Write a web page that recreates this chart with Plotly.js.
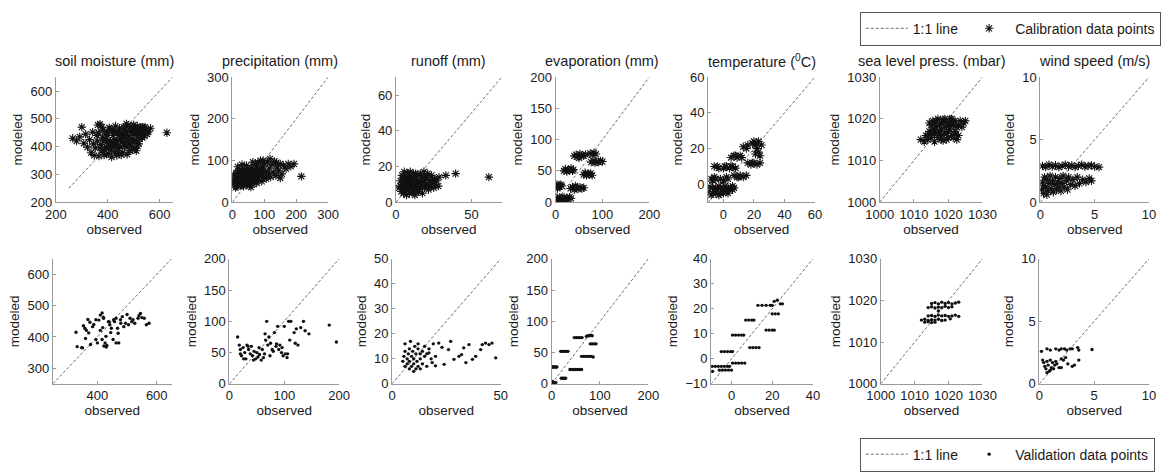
<!DOCTYPE html>
<html>
<head>
<meta charset="utf-8">
<script src="https://cdn.plot.ly/plotly-3.0.1.min.js"></script>
<style>html,body{margin:0;padding:0;background:#fff}#chart{width:1161px;height:472px}</style>
</head>
<body>
<div id="chart"></div>
<script>
// ---------- labels ----------
const panelTitles = ['soil moisture (mm)','precipitation (mm)','runoff (mm)','evaporation (mm)','temperature (<sup>0</sup>C)','sea level press. (mbar)','wind speed (m/s)'];
const xAxisLabel = 'observed';
const yAxisLabel = 'modeled';
const lineLabel = '1:1 line';
const calLabel = 'Calibration data points';
const valLabel = 'Validation data points';

// ---------- axis ranges & ticks (calibration row) ----------
const calRanges = [[200,650],[0,300],[0,70],[0,200],[-10,60],[1000,1030],[0,10]];
const calXTicks = [[200,400,600],[0,100,200,300],[0,50],[0,100,200],[0,20,40,60],[1000,1010,1020,1030],[0,5,10]];
const calYTicks = [[200,300,400,500,600],[0,100,200,300],[0,20,40,60],[0,50,100,150,200],[0,20,40,60],[1000,1010,1020,1030],[0,5,10]];
const calLine = [[250,650],[0,300],[0,70],[0,200],[-10,60],[1000,1030],[0,10]];
// ---------- axis ranges & ticks (validation row) ----------
const valRanges = [[250,650],[0,200],[0,50],[0,200],[-10,40],[1000,1030],[0,10]];
const valXTicks = [[400,600],[0,100,200],[0,50],[0,100,200],[0,20,40],[1000,1010,1020,1030],[0,5,10]];
const valYTicks = [[300,400,500,600],[0,50,100,150,200],[0,10,20,30,40,50],[0,50,100,150,200],[-10,0,10,20,30,40],[1000,1010,1020,1030],[0,5,10]];
const valLine = [[250,650],[0,200],[0,50],[0,200],[-10,40],[1000,1030],[0,10]];

// ---------- calibration data [observed, modeled] ----------
const calSoil = [[265,430],[280,420],[292,435],[300,470],[308,412],[315,445],[322,398],[330,425],[336,378],[342,452],[348,368],[352,395],[358,440],[362,478],[366,366],[370,481],[374,408],[378,385],[382,460],[386,370],[390,428],[394,398],[398,452],[402,375],[406,468],[410,418],[414,388],[418,458],[422,440],[426,380],[430,474],[434,410],[438,452],[442,393],[446,466],[450,428],[454,446],[458,378],[462,470],[466,414],[470,452],[474,398],[478,476],[482,434],[486,460],[490,405],[494,472],[498,446],[502,420],[506,466],[510,440],[514,474],[518,455],[522,428],[526,468],[530,448],[536,470],[542,438],[548,460],[556,452],[565,466],[628,450],[360,420],[380,432],[400,440],[420,402],[440,422],[460,438],[480,420],[500,458],[520,410],[370,395],[395,372],[415,362],[435,368],[455,400],[475,372],[495,390],[515,402],[345,410],[365,450],[385,420],[405,395],[425,452],[445,375],[465,430],[485,385],[505,395],[525,440],[552,445],[540,458],[392,445],[408,405],[424,425],[436,395],[448,452],[464,405],[476,440],[488,472],[496,425],[508,455],[512,420],[528,458],[534,432],[544,470],[388,388],[412,462],[428,410],[452,370],[468,460],[484,410],[500,478],[516,465],[532,470],[378,470],[398,418],[444,440],[472,482],[492,452],[510,385],[458,418]];
const calPrec = [[3,45],[5,55],[6,40],[8,62],[10,48],[12,70],[13,38],[15,52],[17,85],[18,44],[20,60],[22,50],[24,72],[25,40],[27,56],[29,65],[30,46],[32,80],[34,52],[35,38],[37,60],[39,70],[40,45],[42,55],[44,88],[45,42],[47,64],[49,50],[50,75],[52,58],[54,40],[56,68],[58,48],[60,82],[62,55],[64,44],[66,62],[68,72],[70,50],[72,90],[74,60],[76,46],[78,68],[80,95],[82,55],[84,78],[86,62],[88,100],[90,70],[92,50],[95,85],[98,60],[100,92],[103,74],[106,56],[110,96],[113,68],[116,82],[120,60],[124,90],[128,72],[132,98],[136,64],[140,85],[145,75],[150,92],[155,68],[160,88],[168,80],[175,92],[183,86],[193,92],[216,62],[4,66],[10,35],[20,76],[30,90],[14,58],[26,48],[36,66],[48,82],[58,36],[64,96],[76,85],[96,100],[108,62],[118,104],[138,95],[150,58],[2,52],[7,46],[9,58],[11,42],[16,64],[19,48],[23,55],[28,43],[31,58],[33,70],[38,44],[41,62],[43,50],[46,74],[51,45],[55,60],[59,66],[63,52],[67,78],[71,58],[77,72],[83,66],[89,82],[94,72]];
const calRunoff = [[2,8],[3,12],[3.5,6],[4,15],[4.5,9],[5,5],[5,12],[5.5,17],[6,8],[6.5,14],[7,4],[7,11],[7.5,16],[8,7],[8.5,13],[9,5],[9,10],[9.5,17],[10,8],[10.5,14],[11,6],[11,12],[11.5,16],[12,9],[12.5,4],[13,13],[13.5,7],[14,15],[14.5,10],[15,6],[15.5,12],[16,16],[16.5,9],[17,14],[17.5,5],[18,11],[18.5,17],[19,8],[19.5,14],[20,10],[21,16],[21.5,7],[22,12],[23,9],[23.5,15],[24,11],[25,8],[25.5,13],[26,10],[27,12],[28,9],[28.5,14],[4,10],[6,6],[8,10],[10,12],[12,6],[14,11],[16,8],[6,11],[9,14],[13,9],[33,15],[39.5,16],[61.5,14],[3,9],[5,14],[7,7],[8,16],[9,12],[11,9],[12,13],[13,16],[14,6],[15,9],[17,11],[19,12],[20,14],[22,9],[24,13]];
const calEvap = [[2,1],[4,5],[6,0],[8,3],[10,6],[12,2],[5,-2],[9,8],[3,7],[1,25],[3,28],[5,24],[7,27],[9,25],[11,28],[13,26],[4,22],[15,5],[18,8],[21,4],[24,7],[27,5],[30,8],[33,6],[20,2],[18,50],[21,53],[24,49],[27,52],[30,51],[33,54],[36,50],[38,52],[32,22],[36,24],[40,20],[44,23],[48,21],[52,24],[56,22],[60,23],[42,26],[40,74],[44,76],[48,73],[52,77],[56,75],[60,74],[64,76],[50,71],[74,78],[78,76],[82,79],[86,77],[76,64],[80,66],[84,63],[88,65],[92,64],[96,66],[100,65],[60,44],[63,47],[66,43],[69,46],[72,44],[75,46],[78,43]];
const calTemp = [[-10,-4],[-8,-6],[-7,-2],[-6,-4],[-5,-5],[-4,-3],[-3,-6],[-2,-2],[-1,-4],[0,-5],[1,-3],[2,-4],[3,-2],[4,-3],[5,-2],[6,-1],[7,-2],[-9,-1],[-3,-1],[-8,3],[-7,2],[-6,4],[-5,3],[-2,3],[0,2],[2,4],[3,3],[-6,10],[-4,10],[-3,9],[0,9],[2,10],[4,9],[6,10],[8,9],[5,15],[7,16],[9,15],[11,16],[12,15],[7,5],[9,4],[11,5],[13,4],[15,5],[13,21],[15,20],[16,22],[16,12],[18,11],[20,12],[22,11],[24,12],[19,23],[21,22],[23,24],[25,22],[22,20],[21,17],[23,18],[24,16],[-7,-5],[-5,-2],[-2,-5],[1,-1],[3,-5],[6,-3],[1,10],[5,10],[8,16],[10,4],[19,12],[20,24],[22,23]];
const calSlp = [[1012,1015],[1013,1014.5],[1013.5,1016],[1014,1015],[1014.5,1017],[1015,1018.5],[1015,1015.5],[1015.5,1019.5],[1016,1016.5],[1016,1014.5],[1016.5,1018],[1017,1020],[1017,1015.5],[1017.5,1017],[1018,1019],[1018,1016],[1018.5,1014.8],[1019,1018],[1019,1020],[1019.5,1016.5],[1020,1019],[1020,1015.5],[1020.5,1017.5],[1021,1020],[1021,1016],[1021.5,1018.5],[1022,1019.5],[1022,1017],[1022.5,1015],[1023,1018.5],[1023,1016],[1023.5,1019.5],[1024,1018],[1024.5,1019],[1025,1019.5],[1014.5,1019],[1016.5,1019.5],[1018.5,1019.8],[1020.5,1020],[1015.5,1017.5],[1017.5,1018.5],[1019.5,1015],[1021.5,1015.5],[1022.5,1018],[1016,1017.5],[1018,1017.5],[1020,1017],[1015,1016.5],[1017,1016.5],[1019,1016.5],[1021,1019],[1014,1016],[1016,1018.8],[1018,1015],[1020,1018.2],[1022,1016.2],[1019,1019.2]];
const calWind = [[0.2,2.9],[0.5,2.8],[0.8,3.0],[1.1,2.85],[1.4,2.95],[1.7,2.8],[2.0,2.9],[2.3,3.0],[2.6,2.85],[2.9,2.95],[3.2,2.8],[3.5,2.9],[3.8,3.0],[4.1,2.85],[4.4,2.9],[4.7,2.95],[5.0,2.85],[5.4,2.8],[0.1,1.0],[0.2,1.6],[0.3,0.7],[0.4,2.0],[0.5,1.2],[0.6,1.8],[0.7,0.9],[0.8,1.5],[0.9,2.1],[1.0,1.1],[1.1,1.7],[1.2,0.8],[1.3,1.4],[1.4,2.0],[1.5,1.0],[1.6,1.6],[1.7,1.2],[1.8,1.9],[1.9,0.9],[2.0,1.5],[2.1,2.1],[2.2,1.2],[2.4,1.7],[2.5,1.0],[2.6,2.0],[2.8,1.4],[3.0,1.8],[3.2,1.3],[3.4,2.0],[3.6,1.5],[3.9,1.8],[4.2,1.6],[4.5,1.9],[4.7,1.7],[0.3,1.3],[0.6,0.6]];

// ---------- validation data [observed, modeled] ----------
const valSoil = [[328,415],[332,369],[347,366],[353,436],[358,428],[363,421],[371,413],[368,456],[377,376],[384,433],[395,392],[400,381],[405,454],[410,421],[410,470],[416,477],[421,460],[416,392],[426,381],[429,402],[432,373],[437,449],[442,439],[447,428],[453,392],[458,449],[463,460],[463,381],[472,381],[468,428],[479,444],[484,465],[489,433],[495,444],[500,472],[505,439],[510,460],[516,449],[526,444],[537,460],[545,475],[550,462],[558,460],[565,439],[574,444],[375,447],[388,440],[418,430],[445,414],[470,412],[350,365],[422,371],[430,368],[440,448],[455,455],[478,455],[520,455],[540,468],[395,455],[420,463],[360,395]];
const valPrec = [[15,75],[18,62],[20,55],[22,45],[25,58],[28,50],[30,40],[32,62],[35,55],[38,48],[40,60],[42,45],[45,52],[48,40],[50,50],[52,43],[55,47],[58,38],[60,55],[62,42],[65,80],[66,70],[68,100],[70,62],[72,75],[75,65],[78,55],[80,52],[82,82],[85,60],[88,92],[90,55],[92,62],[95,50],[98,45],[100,92],[102,48],[105,42],[108,100],[110,70],[112,100],[118,82],[120,65],[125,62],[130,90],[135,100],[138,85],[145,80],[182,94],[195,67],[20,48],[26,40],[34,60],[44,38],[54,58],[64,48],[74,45],[86,64],[96,58],[106,48],[122,88]];
const valRunoff = [[5,9],[5.5,11],[6,7],[6,13],[7,8],[7,10],[7.5,12],[8,6],[8,9],[8.5,17],[9,7],[9,11],[9.5,13],[10,8],[10,10],[10.5,15],[11,6],[11,12],[11.5,9],[12,14],[12,7],[13,10],[13,12],[14,8],[14,13],[15,11],[15,15],[16,7],[16,12],[17,14],[17,12.4],[18.5,8.5],[20,7.2],[19,16],[20,11],[21.5,16.3],[23,14.6],[24,7.8],[26,13.7],[27,17],[28.5,9.8],[30.8,11],[32,11.7],[33,14.4],[34,8.5],[35.4,15.7],[37,9.8],[38.5,11],[40.8,13.7],[41.5,15.7],[43,16.3],[44.6,15.7],[46,16.3],[47.7,10.4],[6,16],[8,14],[10,5],[13,6],[12,16],[18,10]];
const valEvap = [[1,27],[3,27],[5,27],[7,27],[9,27],[11,27],[1,2],[3,1],[5,2],[7,1],[9,2],[2,4],[19,52],[22,52],[25,52],[28,52],[31,52],[34,52],[20,9],[23,9],[26,9],[29,9],[38,23],[42,23],[46,23],[50,23],[54,23],[58,23],[62,23],[47,74],[51,74],[55,74],[59,74],[63,74],[72,76],[75,77],[78,77],[81,78],[84,77],[62,44],[66,44],[70,44],[74,44],[78,44],[82,44],[86,43],[80,64],[84,64],[88,64],[92,64]];
const valTemp = [[-9.5,-3],[-8,-3],[-6.5,-3],[-5,-3],[-3.5,-3],[-2,-3],[-1,-3],[-6,-4.5],[-4.5,-4.5],[-3,-4.5],[-1.5,-4.5],[0,-4.5],[0.5,-1.7],[2,-1.7],[3.5,-1.7],[5,-1.7],[6.5,-1.7],[-5,2.9],[-3.5,2.9],[-2,2.9],[-0.5,2.9],[0.5,2.9],[0.5,9.5],[2,9.5],[3.5,9.5],[5,9.5],[6,9.5],[7,15.5],[8.5,15.5],[10,15.5],[11,15.5],[9,4.5],[10.5,4.5],[12,4.5],[13.5,4.5],[13,21.4],[15,21.4],[17,21.4],[19,21.4],[20,21.4],[17,11.5],[18.5,11.5],[20,11.5],[21,11.5],[20,18],[21.5,18],[23,18],[21,23],[22.5,23.5],[24,22],[25,22],[-9.3,-5]];
const valSlp = [[1015,1019.3],[1016,1019.5],[1017,1019.2],[1018,1019.6],[1019,1019.3],[1020,1019.5],[1021,1019.2],[1022,1019.4],[1023,1019.6],[1014,1018.3],[1015,1018.5],[1016,1018.2],[1017,1018.4],[1018,1018.3],[1019,1018.6],[1020,1018.3],[1021,1018.5],[1014,1016.3],[1015,1016.4],[1016,1016.2],[1017,1016.5],[1018,1016.3],[1019,1016.4],[1020,1016.2],[1021,1016.3],[1022,1016.5],[1023,1016.2],[1012,1015.3],[1013,1015.5],[1014,1015.2],[1015,1015.4],[1016,1015.3],[1017,1015.5],[1018,1015.2],[1019,1015.3],[1013,1014.8],[1014,1014.9],[1015,1014.7],[1016,1014.8],[1020.5,1015.6],[1017,1017.5]];
const valWind = [[0.2,2.6],[0.7,2.8],[1.0,2.7],[1.5,2.8],[1.8,2.7],[2.0,2.8],[2.3,2.8],[2.5,2.7],[2.8,2.8],[3.0,2.8],[3.5,2.9],[3.6,2.7],[4.8,2.75],[0.3,1.9],[0.4,1.7],[0.5,1.4],[0.6,1.2],[0.7,1.8],[0.8,1.5],[0.9,1.0],[1.0,1.9],[1.1,1.3],[1.2,1.7],[1.3,1.2],[1.4,1.5],[1.5,1.8],[1.6,1.6],[1.8,1.3],[2.0,2.0],[2.2,1.9],[2.4,2.1],[2.6,1.6],[3.0,1.4],[3.2,1.5],[3.6,1.9],[2.0,1.3],[1.0,1.1],[0.7,0.9]];

const calData = [calSoil, calPrec, calRunoff, calEvap, calTemp, calSlp, calWind];
const valData = [valSoil, valPrec, valRunoff, valEvap, valTemp, valSlp, valWind];

// ---------- layout geometry (pixels) ----------
const W = 1161, H = 472;
const calBoxes = [[56,173],[233,329],[397,503],[557,651],[710,817],[882,985],[1043,1152]];
const valBoxes = [[53,172],[230,340],[393,502],[553,650],[713,815],[883,985],[1042,1152]];
const calTopBottom = [79,207];
const valTopBottom = [265,393];

const FONT = '"Liberation Sans", Arial, Helvetica, sans-serif';
const traces = [];
const legendStyle = {xanchor:'left', yanchor:'top', orientation:'h',
           bordercolor:'#555', borderwidth:1, bgcolor:'#fff', font:{size:14, color:'#1a1a1a'},
           itemwidth: 42, tracegroupgap: 0};
const layout = {
  width: W, height: H,
  margin: {l:0, r:0, t:0, b:0},
  paper_bgcolor: '#fff', plot_bgcolor: '#fff',
  font: {family: FONT, size: 13, color: '#1a1a1a'},
  showlegend: true,
  annotations: [],
  legend: Object.assign({x: 862/W, y: 1 - 12/H}, legendStyle),
  legend2: Object.assign({x: 862/W, y: 1 - 448/H}, legendStyle)
};

function axisCommon(){
  return {showline:true, linecolor:'#9a9a9a', linewidth:1, ticks:'inside', ticklen:3,
          tickcolor:'#9a9a9a', showgrid:false, zeroline:false, mirror:false,
          tickfont:{size:13, color:'#1a1a1a'}, fixedrange:true};
}

function addRow(rowIdx, data, ranges, xt, yt, lines, boxes, tb, marker, label, legendName){
  for (let i = 0; i < 7; i++){
    const n = rowIdx*7 + i + 1;
    const xa = 'x' + (n===1?'':n), ya = 'y' + (n===1?'':n);
    const xk = 'xaxis' + (n===1?'':n), yk = 'yaxis' + (n===1?'':n);
    layout[xk] = Object.assign(axisCommon(), {
      domain:[boxes[i][0]/W, boxes[i][1]/W], range: ranges[i], tickvals: xt[i], anchor: ya,
      title:{text:xAxisLabel, font:{size:13.5, color:'#1a1a1a'}, standoff:3}
    });
    layout[yk] = Object.assign(axisCommon(), {
      domain:[1 - tb[1]/H, 1 - tb[0]/H], range: ranges[i], tickvals: yt[i], anchor: xa,
      title:{text:yAxisLabel, font:{size:13.5, color:'#1a1a1a'}, standoff:4}
    });
    traces.push({
      x: lines[i], y: lines[i], xaxis: xa, yaxis: ya, mode:'lines', type:'scatter',
      line:{color:'#6e6e6e', width:1, dash:'3px,2px'}, name: lineLabel,
      showlegend: i===0, legend: legendName, hoverinfo:'skip', cliponaxis:true
    });
    traces.push({
      x: data[i].map(p=>p[0]), y: data[i].map(p=>p[1]), xaxis: xa, yaxis: ya,
      mode:'markers', type:'scatter', marker: marker, name: label,
      showlegend: i===0, legend: legendName, cliponaxis:true
    });
  }
}

addRow(0, calData, calRanges, calXTicks, calYTicks, calLine, calBoxes, calTopBottom,
  {symbol:'asterisk-open', size:7, color:'#111', line:{width:1.1, color:'#111'}}, calLabel, 'legend');
addRow(1, valData, valRanges, valXTicks, valYTicks, valLine, valBoxes, valTopBottom,
  {symbol:'circle', size:3.4, color:'#111', line:{width:0}}, valLabel, 'legend2');

// panel titles
for (let i = 0; i < 7; i++){
  layout.annotations.push({
    text: panelTitles[i], xref:'paper', yref:'paper',
    x: (calBoxes[i][0] + calBoxes[i][1]) / 2 / W, y: 1 - 62/H,
    xanchor:'center', yanchor:'middle', showarrow:false,
    font:{size:14.5, color:'#1a1a1a'}
  });
}

Plotly.newPlot('chart', traces, layout, {staticPlot:true, displayModeBar:false});
</script>
</body>
</html>
